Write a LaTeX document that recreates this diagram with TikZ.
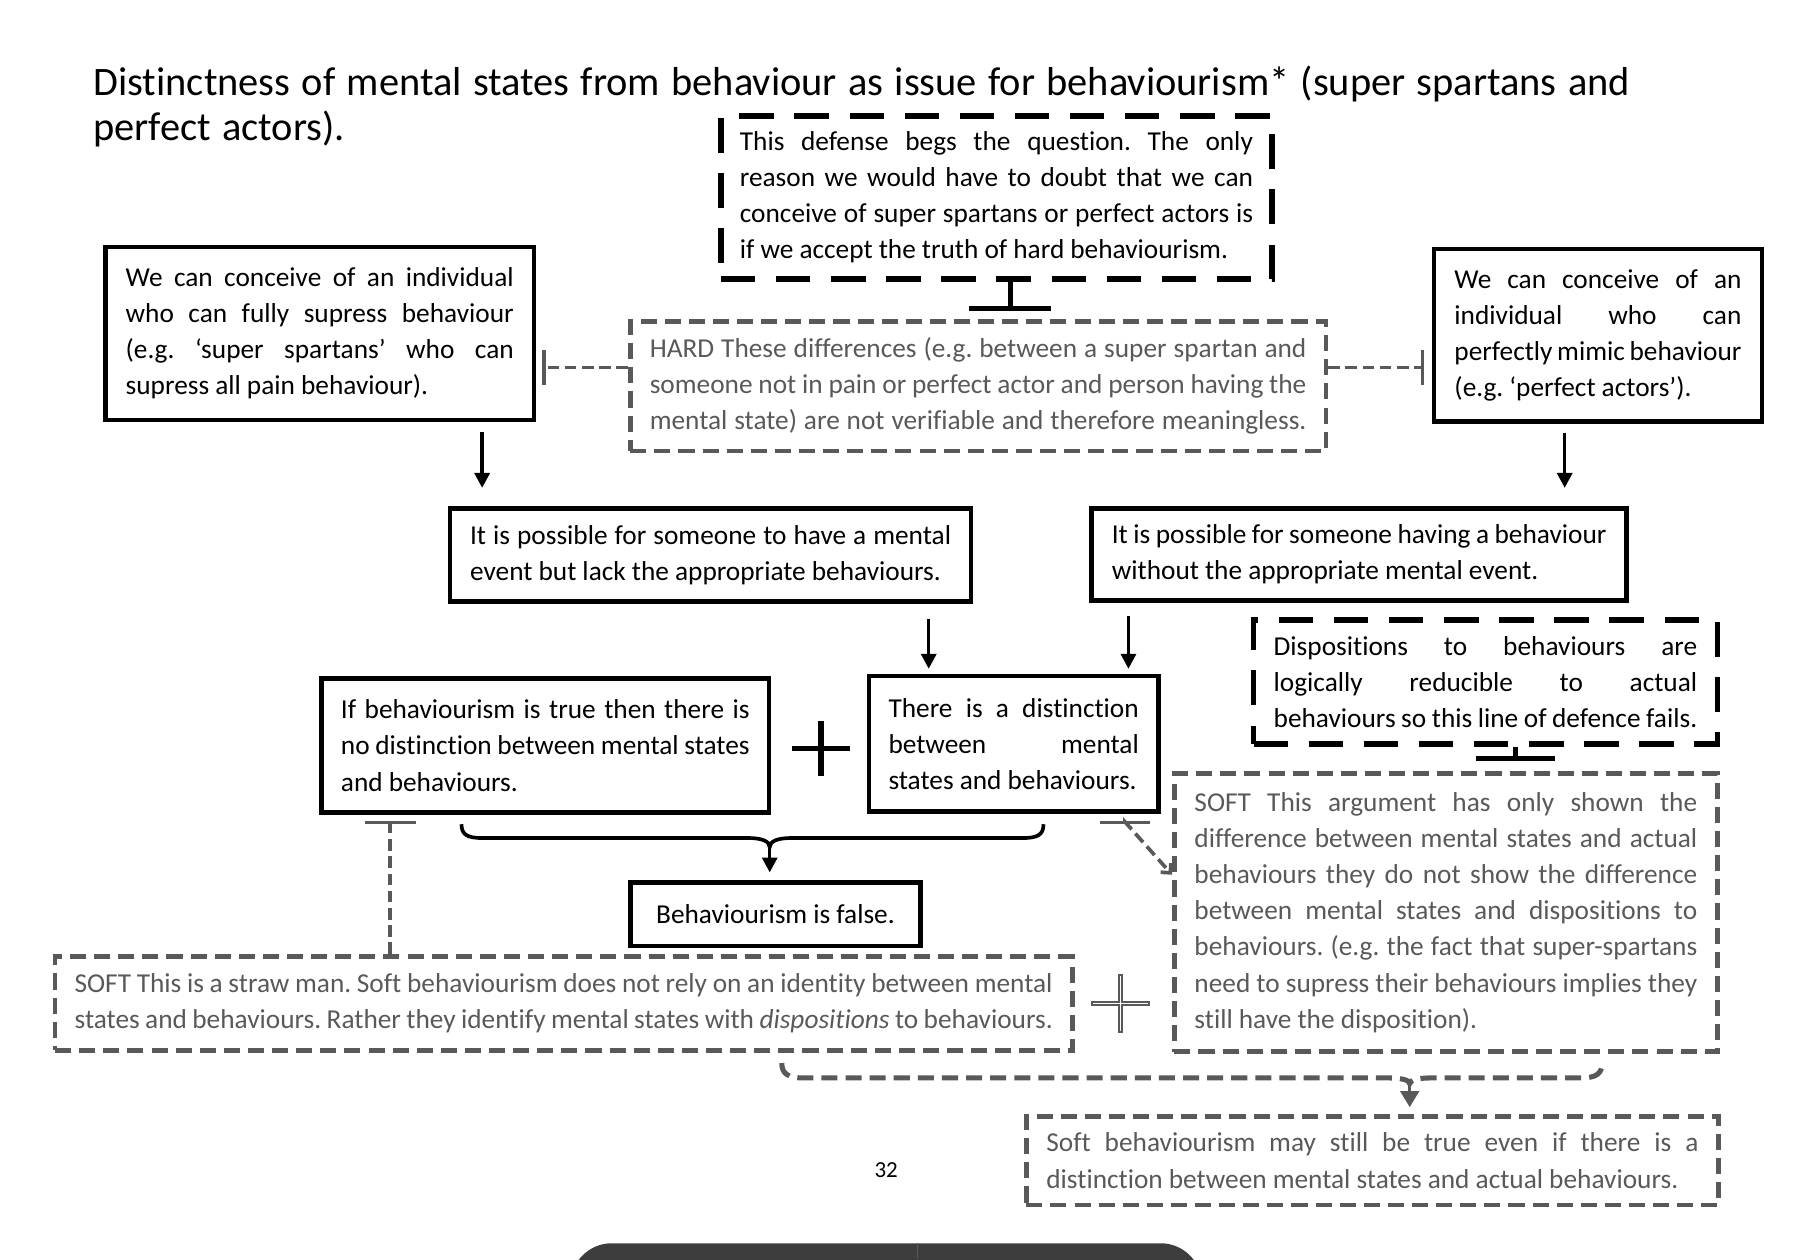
\documentclass[tikz,border=0pt]{standalone}
\usepackage{fontspec}
\setmainfont{Carlito}[Ligatures=NoCommon]
\usetikzlibrary{arrows.meta, calc}
\usepackage{xcolor}

\definecolor{softgray}{HTML}{595959}
\definecolor{panel}{HTML}{3D3D3D}

% fonts with word spaces as in the source
\newcommand{\boxfont}{\fontsize{11.9}{15.7}\selectfont\frenchspacing
  \spaceskip=2.65pt plus 3pt minus 1pt\hyphenpenalty=10000\relax}
\newcommand{\headfont}{\fontsize{17.6}{19.6}\selectfont\frenchspacing
  \spaceskip=4.95pt plus 2pt minus 1pt\relax}
% one justified line of a box
\newcommand{\jl}[1]{\makebox[\linewidth][s]{#1}}

\tikzset{
  box/.style={draw, line width=2pt, rectangle, inner sep=0pt, align=justify},
  hardbox/.style={box, line width=2.4pt, dash pattern=on 15pt off 9pt},
  softbox/.style={box, draw=softgray, text=softgray, dash pattern=on 7pt off 3.5pt},
  arr/.style={-{Triangle[length=6.5pt,width=6.5pt]}, line width=1.5pt},
  softline/.style={draw=softgray, line width=1.6pt, dash pattern=on 5pt off 2.5pt},
}

\begin{document}
\begin{tikzpicture}[x=0.5pt, y=-0.5pt, font=\boxfont]
  \useasboundingbox (0,0) rectangle (1568,1097);

  \node[anchor=base west, inner sep=0pt, text width=700pt, align=justify, font=\headfont] (title) at (81,82.8)
    {Distinctness of mental states from behaviour as issue for behaviourism* (super spartans and\\
     perfect actors).};

  % Top row: the two thought experiments and the HARD reply
  \node[hardbox, minimum width=240pt, minimum height=71pt, text width=223.5pt] (defence) at (868,172)
    {\jl{This defense begs the question. The only}\\
     \jl{reason we would have to doubt that we can}\\
     \jl{conceive of super spartans or perfect actors is}\\
     if we accept the truth of hard behaviourism.};
  \node[softbox, minimum width=303pt, minimum height=56.5pt, text width=286pt] (hard) at (852,336.5)
    {\jl{HARD These differences (e.g. between a super spartan and}\\
     \jl{someone not in pain or perfect actor and person having the}\\
     \jl{mental state) are not verifiable and therefore meaningless.}};
  \node[box, minimum width=186.5pt, minimum height=75.5pt, text width=169pt] (spartan) at (278.5,290.5)
    {\jl{We can conceive of an individual}\\
     \jl{who can fully supress behaviour}\\
     \jl{(e.g. ‘super spartans’ who can}\\
     supress all pain behaviour).};
  \node[box, minimum width=143pt, minimum height=75pt, text width=125pt] (actor) at (1392,292)
    {\jl{We can conceive of an}\\
     \jl{individual who can}\\
     \jl{perfectly mimic behaviour}\\
     (e.g. ‘perfect actors’).};

  % Middle row
  \node[box, minimum width=227pt, minimum height=40.5pt, text width=209.5pt] (lackbeh) at (619,483.5)
    {\jl{It is possible for someone to have a mental}\\
     event but lack the appropriate behaviours.};
  \node[box, minimum width=233pt, minimum height=40pt, text width=215.5pt] (lackmind) at (1184,483)
    {\jl{It is possible for someone having a behaviour}\\
     without the appropriate mental event.};
  \node[hardbox, minimum width=202pt, minimum height=54pt, text width=184.5pt] (dispo) at (1294,594)
    {\jl{Dispositions to behaviours are}\\
     \jl{logically reducible to actual}\\
     \jl{behaviours so this line of defence fails.}};
  \node[box, minimum width=195pt, minimum height=58.5pt, text width=178pt] (ifbeh) at (475,649.5)
    {\jl{If behaviourism is true then there is}\\
     \jl{no distinction between mental states}\\
     and behaviours.};
  \node[box, minimum width=126pt, minimum height=59pt, text width=109pt] (distinct) at (883,648)
    {\jl{There is a distinction}\\
     \jl{between mental}\\
     states and behaviours.};
  \node[softbox, minimum width=236.5pt, minimum height=121pt, text width=219pt] (softr) at (1259.5,795)
    {\jl{SOFT This argument has only shown the}\\
     \jl{difference between mental states and actual}\\
     \jl{behaviours they do not show the difference}\\
     \jl{between mental states and dispositions to}\\
     \jl{behaviours. (e.g. the fact that super-spartans}\\
     \jl{need to supress their behaviours implies they}\\
     still have the disposition).};

  % Bottom row
  \node[box, minimum width=126.5pt, minimum height=27.5pt] (false) at (675.5,796.5) {Behaviourism is false.};
  \node[softbox, minimum width=443pt, minimum height=41pt, text width=426pt] (softl) at (491,874)
    {\jl{SOFT This is a straw man. Soft behaviourism does not rely on an identity between mental}\\
     \jl{states and behaviours. Rather they identify mental states with \emph{dispositions} to behaviours.}};
  \node[softbox, minimum width=301.5pt, minimum height=38.5pt, text width=284pt] (final) at (1195.5,1011)
    {\jl{Soft behaviourism may still be true even if there is a}\\
     distinction between mental states and actual behaviours.};
  \node[font=\fontsize{10}{12}\selectfont] (page) at (772,1019) {32};

  % plus signs
  \draw[line width=2.4pt] (690,652) -- (740,652) (715,628) -- (715,676);
  \draw[softgray, line width=0.9pt, fill=white]
    (951,872.5) -- (974.5,872.5) -- (974.5,849) -- (977.5,849) -- (977.5,872.5) -- (1001,872.5)
    -- (1001,875.5) -- (977.5,875.5) -- (977.5,899) -- (974.5,899) -- (974.5,875.5) -- (951,875.5) -- cycle;

  % Arrows
  \draw[arr, shorten <=4pt, shorten >=8pt] (spartan.south -| 420,0) -- (lackbeh.north -| 420,0);
  \draw[arr, shorten <=4pt, shorten >=8pt] (actor.south -| 1363,0) -- (lackmind.north -| 1363,0);
  \draw[arr, shorten <=6.5pt, shorten >=2.2pt] (lackbeh.south -| 809,0) -- (distinct.north -| 809,0);
  \draw[arr, shorten <=6pt, shorten >=2.2pt] (lackmind.south -| 983,0) -- (distinct.north -| 983,0);

  % Objections (blocked lines)
  \draw[-{Bar[width=35.5pt]}, line width=2.2pt, shorten >=3.7pt] (defence.south -| 880,0) -- (hard.north -| 880,0);
  \draw[-{Bar[width=34.5pt]}, line width=2.2pt, shorten >=4.7pt] (dispo.south -| 1320,0) -- (softr.north -| 1320,0);
  \draw[softline, -{Bar[width=15.5pt]}, shorten >=2.7pt] (hard.west |- 0,320) -- (spartan.east |- 0,320);
  \draw[softline, -{Bar[width=15.5pt]}, shorten >=3.2pt] (hard.east |- 0,320) -- (actor.west |- 0,320);
  \draw[softline, -{Bar[width=22pt]}, shorten >=2.5pt] (softl.north -| 340,0) -- (ifbeh.south -| 340,0);
  \draw[softline, {Bar[width=22pt]}-{Straight Barb[length=3pt,width=6pt]}]
    ($(distinct.south -| 980,0)+(0,6)$) -- ++(0,1) -- (softr.west |- 0,762);

  % Brace into the conclusion
  \draw[line width=1.6pt] (402,718) .. controls (402,727) and (407,730) .. (420,730) -- (652,730)
    .. controls (664,730) and (670.5,733) .. (670.5,738)
    .. controls (670.5,733) and (677,730) .. (689,730) -- (891,730)
    .. controls (904,730) and (909,727) .. (909,718);
  \coordinate (cusp) at (670.5,738);
  \draw[arr, shorten >=3.5pt] (cusp) -- (cusp |- false.north);

  % Dashed brace into the soft conclusion
  \draw[softline, line width=2.2pt, dash pattern=on 7pt off 3.5pt]
    (681,926) .. controls (681,935) and (686,939) .. (700,939) -- (1210,939)
    .. controls (1221,939) and (1228,941) .. (1228,944)
    .. controls (1228,941) and (1235,939) .. (1246,939) -- (1377,939)
    .. controls (1391,939) and (1395.5,935) .. (1395.5,926);
  \coordinate (softcusp) at (1228,944);
  \draw[arr, softgray, -{Triangle[length=7pt,width=8pt]}, shorten >=3pt] (softcusp) -- (softcusp |- final.north);

  % dark panel at the foot
  \begin{scope}
    \clip (0,0) rectangle (1568,1097);
    \fill[panel, rounded corners=18pt] (497,1083) rectangle (1047,1200);
    \draw[softgray, line width=0.6pt] (799,1083) -- (799,1097);
  \end{scope}
\end{tikzpicture}
\end{document}
